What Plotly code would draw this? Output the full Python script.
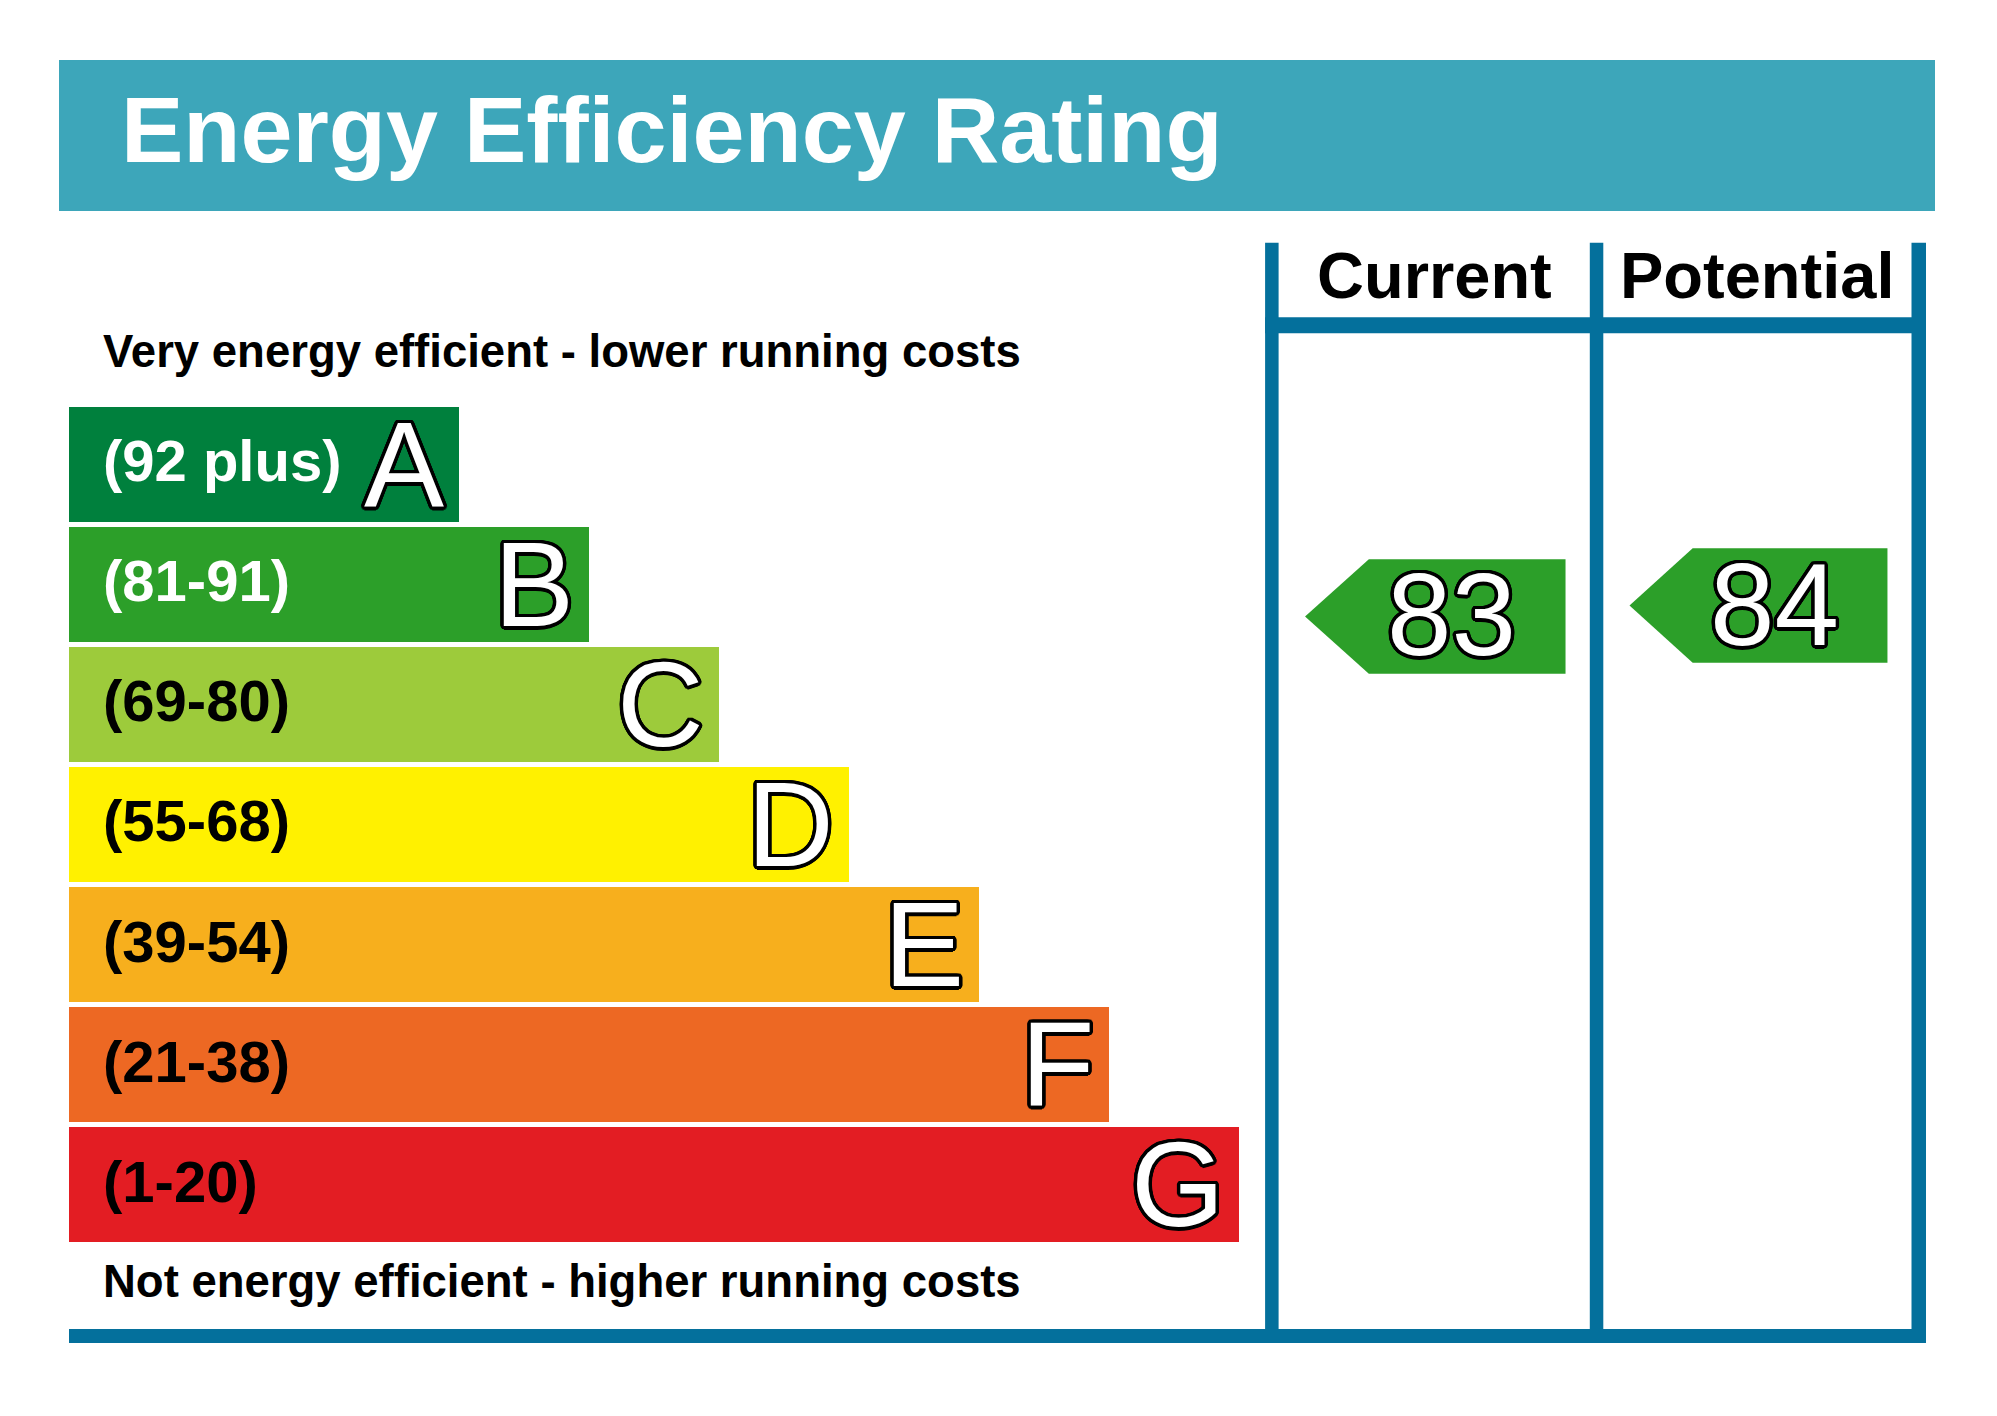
import math
import plotly.graph_objects as go

# ---------------- data ----------------
bands = ["A", "B", "C", "D", "E", "F", "G"]
band_ranges = ["(92 plus)", "(81-91)", "(69-80)", "(55-68)", "(39-54)", "(21-38)", "(1-20)"]
band_low = [92, 81, 69, 55, 39, 21, 1]
band_high = [100, 91, 80, 68, 54, 38, 20]
band_length = [3, 4, 5, 6, 7, 8, 9]
band_colors = ["#00803D", "#2C9F29", "#9DCB3B", "#FFF100", "#F7AF1D", "#ED6823", "#E31D23"]
range_text_colors = ["white", "white", "black", "black", "black", "black", "black"]

columns = ["Current", "Potential"]
ratings = [83, 84]

title_text = "Energy Efficiency Rating"
top_note = "Very energy efficient - lower running costs"
bottom_note = "Not energy efficient - higher running costs"

# ---------------- layout constants (pixels) ----------------
W, H = 1997, 1416
OFF = 8  # page body margin
FONT = "Arial, Liberation Sans, sans-serif"
BANNER = "#3DA6BA"
FRAME = "#04709C"

def px(x):
    return (x - OFF) / W

def py(y):
    return 1 - (y - OFF) / H

BAR_X0, BAR_X1 = 69, 1239
BAND_TOP, BAND_BOTTOM = 403.5, 1244.3
col_left = [1278.6, 1603.3]
col_right = [1589.8, 1911.5]
LINE_W = 13.5


def outline(r=3, n=20, color="#000"):
    parts = []
    for k in range(n):
        a = 2 * math.pi * k / n
        parts.append(f"{r*math.cos(a):.2f}px {r*math.sin(a):.2f}px 0 {color}")
    return ", ".join(parts)


fig = go.Figure()

# bars
fig.add_trace(go.Bar(
    y=list(range(len(bands))), x=band_length, orientation="h",
    marker=dict(color=band_colors, line=dict(width=0)),
    width=0.957, hoverinfo="skip", showlegend=False,
    xaxis="x", yaxis="y",
))

annotations = []
for i, b in enumerate(bands):
    annotations.append(dict(
        x=0, y=i, xref="x", yref="y", text=band_ranges[i], showarrow=False,
        xanchor="left", yanchor="middle", xshift=32, yshift=3,
        font=dict(family=FONT, size=58, color=range_text_colors[i], weight="bold"),
    ))
    annotations.append(dict(
        x=band_length[i], y=i, xref="x", yref="y", text=b, showarrow=False,
        xanchor="right", yanchor="middle", xshift=-13, yshift=0,
        font=dict(family=FONT, size=120, color="white", shadow=outline(3.5)),
    ))


def band_of(v):
    for i in range(len(bands)):
        if band_low[i] <= v <= band_high[i]:
            return i
    return len(bands) - 1


TIP, SHOULDER, RIGHT, HALF = 0.085, 0.29, 0.922, 0.477
for c, (name, val) in enumerate(zip(columns, ratings)):
    i = band_of(val)
    mid = (band_low[i] + band_high[i]) / 2
    yc = i + (mid - val) / (band_high[i] - band_low[i] + 1)
    xs = [TIP, SHOULDER, RIGHT, RIGHT, SHOULDER, TIP]
    ys = [yc, yc - HALF, yc - HALF, yc + HALF, yc + HALF, yc]
    ax = "x2" if c == 0 else "x3"
    fig.add_trace(go.Scatter(
        x=xs, y=ys, mode="lines", fill="toself", fillcolor=band_colors[i],
        line=dict(width=0, color=band_colors[i]), hoverinfo="skip",
        showlegend=False, xaxis=ax, yaxis="y",
    ))
    annotations.append(dict(
        x=0.555, y=yc, xref=ax, yref="y", text=str(val), showarrow=False,
        xanchor="center", yanchor="middle", yshift=1,
        font=dict(family=FONT, size=116, color="white", shadow=outline(3.5)),
    ))
    annotations.append(dict(
        x=px((col_left[c] + col_right[c]) / 2), y=py(276), xref="paper", yref="paper",
        text=name, showarrow=False, xanchor="center", yanchor="middle",
        font=dict(family=FONT, size=65, color="black", weight="bold"),
    ))

annotations += [
    dict(x=px(119), y=py(129), xref="paper", yref="paper", text=title_text,
         showarrow=False, xanchor="left", yanchor="middle",
         font=dict(family=FONT, size=93.5, color="white", weight="bold")),
    dict(x=px(101), y=py(351), xref="paper", yref="paper", text=top_note,
         showarrow=False, xanchor="left", yanchor="middle",
         font=dict(family=FONT, size=45.5, color="black", weight="bold")),
    dict(x=px(101), y=py(1281), xref="paper", yref="paper", text=bottom_note,
         showarrow=False, xanchor="left", yanchor="middle",
         font=dict(family=FONT, size=45.5, color="black", weight="bold")),
]

shapes = [
    dict(type="rect", xref="paper", yref="paper", x0=px(59), x1=px(1935),
         y0=py(211), y1=py(60), fillcolor=BANNER, line=dict(width=0), layer="below"),
]
# frame
for xl in [col_left[0] - LINE_W, col_right[0], col_right[1]]:
    shapes.append(dict(type="rect", xref="paper", yref="paper", x0=px(xl), x1=px(xl + LINE_W + (1 if xl == col_right[1] else 0)),
                       y0=py(1343), y1=py(242.7), fillcolor=FRAME, line=dict(width=0)))
shapes.append(dict(type="rect", xref="paper", yref="paper", x0=px(col_left[0] - LINE_W), x1=px(1926),
                   y0=py(333.3), y1=py(317.3), fillcolor=FRAME, line=dict(width=0)))
shapes.append(dict(type="rect", xref="paper", yref="paper", x0=px(69), x1=px(1926),
                   y0=py(1343), y1=py(1329), fillcolor=FRAME, line=dict(width=0)))

hidden = dict(visible=False, showgrid=False, zeroline=False, fixedrange=True)
fig.update_layout(
    width=W, height=H, margin=dict(l=0, r=0, t=0, b=0),
    paper_bgcolor="white", plot_bgcolor="white", showlegend=False,
    xaxis=dict(domain=[px(BAR_X0), px(BAR_X1)], range=[0, 9], anchor="y", **hidden),
    xaxis2=dict(domain=[px(col_left[0]), px(col_right[0])], range=[0, 1], anchor="y", **hidden),
    xaxis3=dict(domain=[px(col_left[1]), px(col_right[1])], range=[0, 1], anchor="y", **hidden),
    yaxis=dict(domain=[py(BAND_BOTTOM), py(BAND_TOP)], range=[6.5, -0.5], **hidden),
    annotations=annotations, shapes=shapes, bargap=0,
)

fig.write_html("out.html")
